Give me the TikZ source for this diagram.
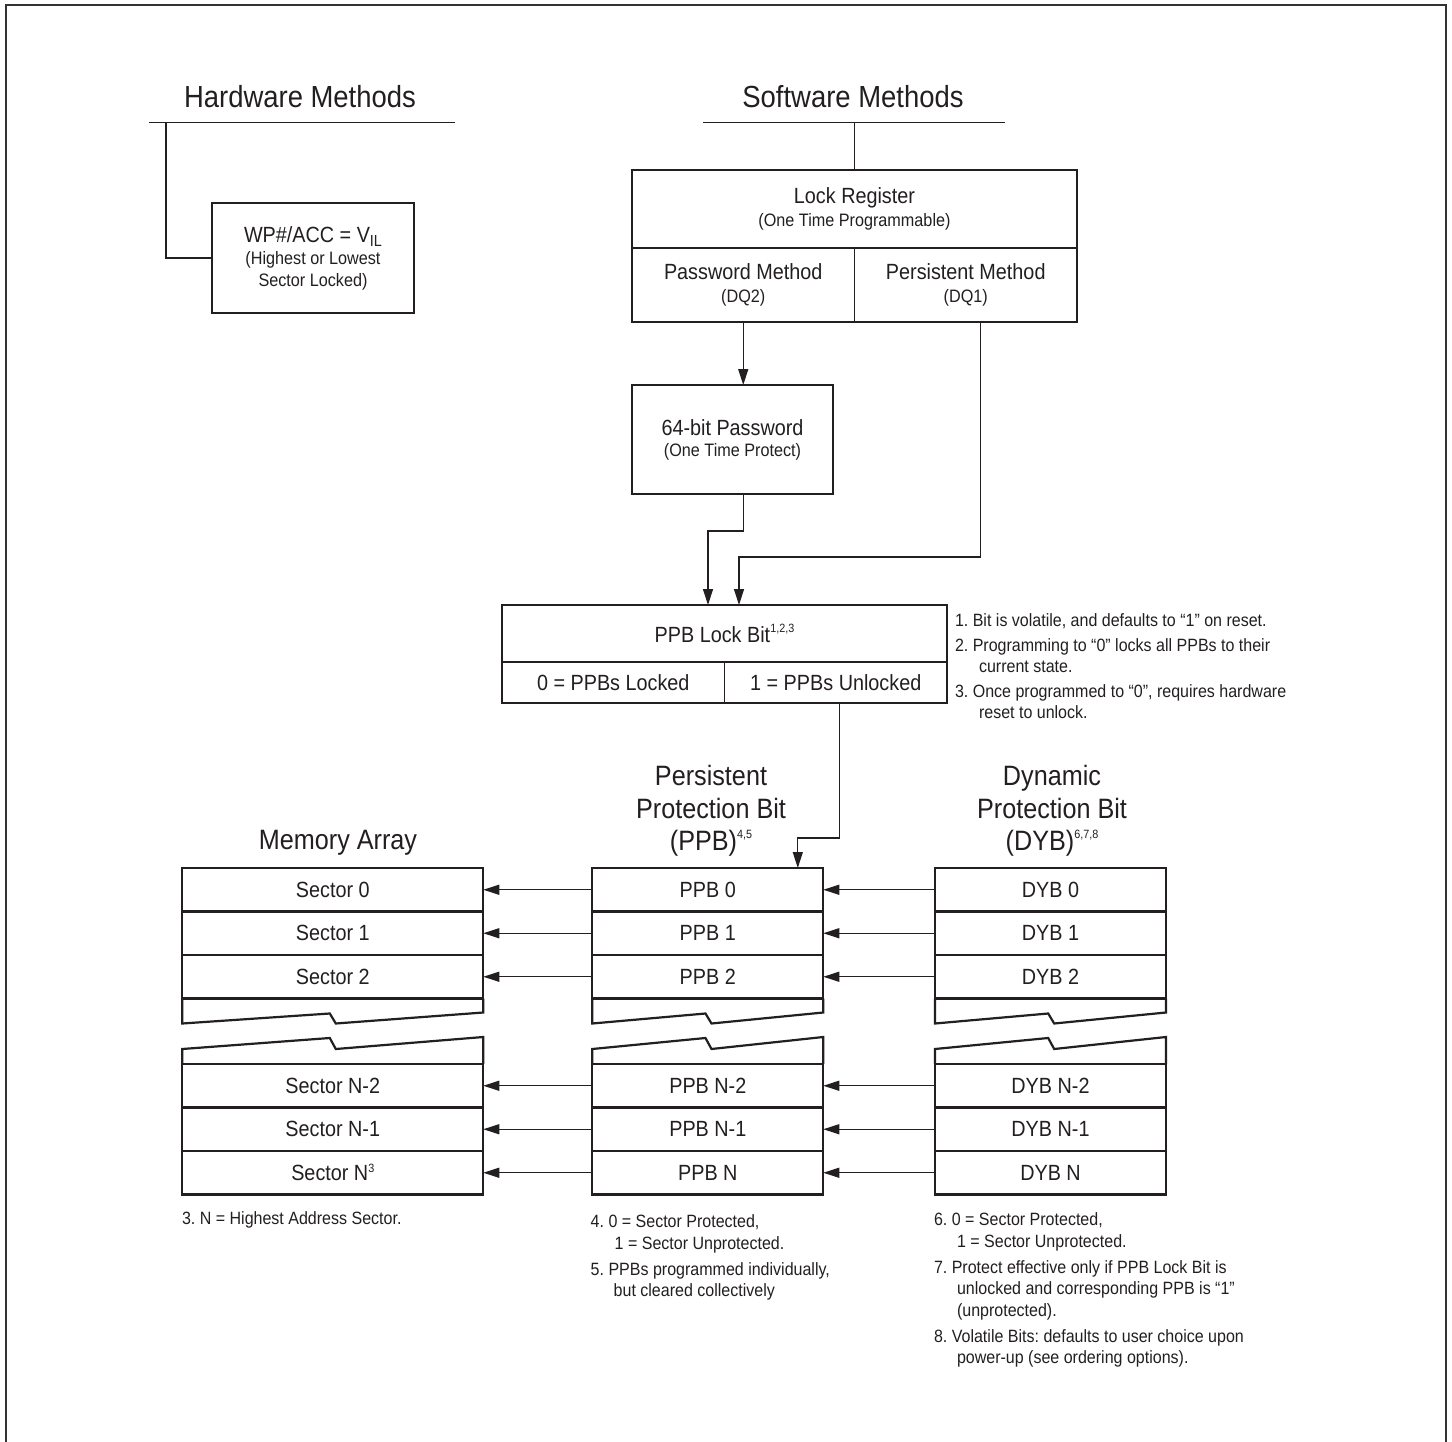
\documentclass[tikz,border=0pt]{standalone}
\usepackage{fontspec}
\setmainfont{Liberation Sans}[FakeStretch=0.9]
\usetikzlibrary{arrows.meta,calc}
\definecolor{ink}{RGB}{35,31,32}
\frenchspacing

% larger first line inside two-line boxes
\newcommand\bigtxt[1]{{\fontsize{22}{22}\selectfont #1}}
% small raised note markers
\newcommand\supmark[2]{\raisebox{#1}{\fontsize{12}{12}\selectfont #2}}

% cut-away gap between two rows of a stack
\newcommand\gapcut[2]{%
  \draw[brk] (#1.south west) -- ++(0,25)
    -- ($(#1.south west)!0.49!(#1.south east)+(0,15)$) -- ++(6,10)
    -- ($(#1.south east)+(0,14)$) -- (#1.south east);
  \draw[brk] (#2.north west) -- ++(0,-15)
    -- ($(#2.north west)!0.49!(#2.north east)+(0,-26)$) -- ++(6,11)
    -- ($(#2.north east)+(0,-27)$) -- (#2.north east);
}

\begin{document}
\begin{tikzpicture}[x=1pt,y=-1pt,
  every node/.style={text=ink, inner sep=0pt, outer sep=0pt},
  conn/.style={draw=ink, line width=1.3pt},
  arr/.style={conn, -{Triangle[length=16pt,width=10pt]}},
  heavy/.style={draw=ink, line width=2.5pt},
  rowcell/.style={draw=ink, line width=2.2pt, minimum height=43.5pt,
    font=\fontsize{22}{26}\selectfont},
  memcell/.style={rowcell, minimum width=301pt},
  bitcell/.style={rowcell, minimum width=231pt},
  brk/.style={draw=ink, line width=2.2pt, line join=miter},
  ttl/.style={font=\fontsize{30.5}{36}\selectfont},
  coltitle/.style={font=\fontsize{28}{32.5}\selectfont, align=center},
  maintext/.style={font=\fontsize{22}{26}\selectfont},
  twoline/.style={align=center, font=\fontsize{18}{22.5}\selectfont},
  notes/.style={font=\fontsize{17.8}{21.5}\selectfont, align=left, anchor=north west},
]
\useasboundingbox (0,0) rectangle (1452,1442);
\fill[white] (0,0) rectangle (1452,1442);

% page frame
\draw[draw=black!80, line width=2pt] (6,1442) -- (6,5.5) -- (1446,5.5) -- (1446,1442);

% ---------- hardware branch ----------
\node[ttl] (hwtitle) at (300,97) {Hardware Methods};
\coordinate (hwL) at (149,122.5);
\coordinate (hwR) at (455,122.5);
\coordinate (hwT) at (166,122.5);
\draw[conn] (hwL) -- (hwR);
\node[heavy, twoline, font=\fontsize{18}{22}\selectfont,
      minimum width=202pt, minimum height=110pt] (wp) at (313,258)
  {\bigtxt{WP\#/ACC = V\raisebox{-4.5pt}{\fontsize{16}{16}\selectfont IL}}\\
   (Highest or Lowest\\Sector Locked)};
\draw[conn] (hwT) |- (wp.west);

% ---------- software branch ----------
\node[ttl] (swtitle) at (853,97) {Software Methods};
\coordinate (swL) at (703,122.5);
\coordinate (swR) at (1005,122.5);
\draw[conn] (swL) -- (swR);

\node[twoline, minimum width=445pt, minimum height=78pt] (lockreg) at (854.5,209)
  {\bigtxt{Lock Register}\\(One Time Programmable)};
\node[twoline, minimum width=222.5pt, minimum height=74pt] (pw) at (743.25,285)
  {\bigtxt{Password Method}\\(DQ2)};
\node[twoline, minimum width=222.5pt, minimum height=74pt] (pm) at (965.75,285)
  {\bigtxt{Persistent Method}\\(DQ1)};
\draw[heavy] (lockreg.north west) rectangle (pm.south east);
\draw[conn] (lockreg.south west) -- (lockreg.south east);
\draw[conn] (pw.north east) -- (pw.south east);
\draw[conn] (lockreg.north |- swL) -- (lockreg.north);

\node[heavy, twoline, font=\fontsize{18}{21}\selectfont,
      minimum width=201pt, minimum height=109pt] (pass) at (732.5,439.5)
  {\bigtxt{64-bit Password}\\(One Time Protect)};
\draw[arr] (pw.south) -- (pw.south |- pass.north);

% PPB lock bit
\node[maintext, minimum width=445pt, minimum height=57pt] (plb) at (724.5,633.5)
  {PPB Lock Bit\supmark{10pt}{1,2,3}};
\node[maintext, minimum width=222.5pt, minimum height=41pt] (lk0) at (613.25,682.5)
  {0 = PPBs Locked};
\node[maintext, minimum width=222.5pt, minimum height=41pt] (lk1) at (835.75,682.5)
  {1 = PPBs Unlocked};
\draw[heavy] (plb.north west) rectangle (lk1.south east);
\draw[conn] (plb.south west) -- (plb.south east);
\draw[conn] (lk0.north east) -- (lk0.south east);

\draw[arr] (pass.south -| pw.south) -- ++(0,37) -| ($(plb.north)+(-16.5,0)$);
\draw[arr] ($(pm.south)+(15,0)$) -- ++(0,235) -| ($(plb.north)+(14.5,0)$);

\node[notes, font=\fontsize{17.8}{21}\selectfont] (noteLock) at (955,613.5)
  {1. Bit is volatile, and defaults to “1” on reset.\\[4pt]
   2. Programming to “0” locks all PPBs to their\\
   \hspace*{24pt}current state.\\[4pt]
   3. Once programmed to “0”, requires hardware\\
   \hspace*{24pt}reset to unlock.};

% ---------- column titles ----------
\node[coltitle] (memtitle) at (338,843) {Memory Array};
\node[coltitle] (ppbtitle) at (711,811)
  {Persistent\\Protection Bit\\(PPB)\supmark{12pt}{4,5}};
\node[coltitle] (dybtitle) at (1052,811)
  {Dynamic\\Protection Bit\\(DYB)\supmark{12pt}{6,7,8}};

% ---------- stacks ----------
\node[memcell] (memr0) at (332.8,889.75) {Sector 0};
\node[memcell] (memr1) at (332.8,933.25) {Sector 1};
\node[memcell] (memr2) at (332.8,976.75) {Sector 2};
\node[memcell] (memn2) at (332.8,1085.75) {Sector N-2};
\node[memcell] (memn1) at (332.8,1129.25) {Sector N-1};
\node[memcell] (memn)  at (332.8,1172.75) {Sector N\supmark{8pt}{3}};

\node[bitcell] (ppbr0) at (707.8,889.75) {PPB 0};
\node[bitcell] (ppbr1) at (707.8,933.25) {PPB 1};
\node[bitcell] (ppbr2) at (707.8,976.75) {PPB 2};
\node[bitcell] (ppbn2) at (707.8,1085.75) {PPB N-2};
\node[bitcell] (ppbn1) at (707.8,1129.25) {PPB N-1};
\node[bitcell] (ppbn)  at (707.8,1172.75) {PPB N};

\node[bitcell] (dybr0) at (1050.5,889.75) {DYB 0};
\node[bitcell] (dybr1) at (1050.5,933.25) {DYB 1};
\node[bitcell] (dybr2) at (1050.5,976.75) {DYB 2};
\node[bitcell] (dybn2) at (1050.5,1085.75) {DYB N-2};
\node[bitcell] (dybn1) at (1050.5,1129.25) {DYB N-1};
\node[bitcell] (dybn)  at (1050.5,1172.75) {DYB N};

\gapcut{memr2}{memn2}
\gapcut{ppbr2}{ppbn2}
\gapcut{dybr2}{dybn2}

\foreach \r in {r0,r1,r2,n2,n1,n}{
  \draw[arr] (dyb\r.west) -- (ppb\r.east);
  \draw[arr] (ppb\r.west) -- (mem\r.east);
}

\draw[arr] ($(lk1.south)+(3.5,0)$) -- ++(0,135) -| ($(ppbr0.north)+(90,0)$);

% ---------- footnotes ----------
\node[notes] (noteMem) at (182,1211.5) {3. N = Highest Address Sector.};
\node[notes] (notePpb) at (590.7,1215)
  {4. 0 = Sector Protected,\\
   \hspace*{24pt}1 = Sector Unprotected.\\[4.5pt]
   5. PPBs programmed individually,\\
   \hspace*{23pt}but cleared collectively};
\node[notes] (noteDyb) at (934,1212.8)
  {6. 0 = Sector Protected,\\
   \hspace*{23pt}1 = Sector Unprotected.\\[4.5pt]
   7. Protect effective only if PPB Lock Bit is\\
   \hspace*{23pt}unlocked and corresponding PPB is “1”\\
   \hspace*{23pt}(unprotected).\\[4.5pt]
   8. Volatile Bits: defaults to user choice upon\\
   \hspace*{23pt}power-up (see ordering options).};
\end{tikzpicture}
\end{document}
